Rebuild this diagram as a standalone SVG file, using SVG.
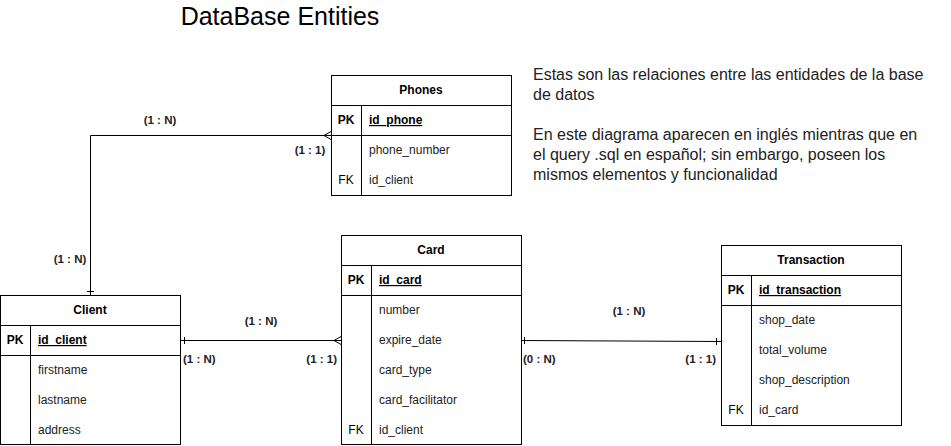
<svg xmlns="http://www.w3.org/2000/svg" width="951" height="446" viewBox="0 0 951 446">
<style>
.box{fill:#fff;stroke:#000;stroke-width:1}
.ln{stroke:#000;stroke-width:1;fill:none}
text{font-family:"Liberation Sans",Arial,Helvetica,sans-serif;fill:#000}
.t{font-size:12px;font-weight:bold;text-anchor:middle}
.k{font-size:12px;font-weight:bold;text-anchor:middle}
.fk{font-size:12px;text-anchor:middle}
.pk{font-size:12px;font-weight:bold;text-decoration:underline}
.f{font-size:12px;fill:#222}
.lbl{font-size:11.5px;font-weight:bold;fill:#222}
.c{text-anchor:middle}
.e{text-anchor:end}
.note{font-size:16px;fill:#222}
</style>
<rect width="951" height="446" fill="#fff"/>
<text x="280" y="25" style="font-size:25px" text-anchor="middle">DataBase Entities</text>
<g id="note">
<text class="note" x="533" y="80">Estas son las relaciones entre las entidades de la base</text>
<text class="note" x="533" y="100">de datos</text>
<text class="note" x="533" y="140">En este diagrama aparecen en inglés mientras que en</text>
<text class="note" x="533" y="160">el query .sql en español; sin embargo, poseen los</text>
<text class="note" x="533" y="180">mismos elementos y funcionalidad</text>
</g>
<g id="connectors">
<path class="ln" d="M90.5,295 V135.5 H331"/>
<path class="ln" d="M87,291.5 H94"/>
<path class="ln" d="M331,131.5 L324,135.5 L331,139.5"/>
<path class="ln" d="M180,340.5 H341"/>
<path class="ln" d="M184.5,337 V344"/>
<path class="ln" d="M341,336.5 L334,340.5 L341,344.5"/>
<path class="ln" d="M521,340.5 L721,341.5"/>
<path class="ln" d="M524.5,337 V344"/>
<path class="ln" d="M716.5,338 V345"/>
<text class="lbl c" x="160" y="124">(1 : N)</text>
<text class="lbl c" x="310" y="154">(1 : 1)</text>
<text class="lbl c" x="70" y="263">(1 : N)</text>
<text class="lbl c" x="261" y="325">(1 : N)</text>
<text class="lbl" x="183" y="363">(1 : N)</text>
<text class="lbl e" x="337" y="363">(1 : 1)</text>
<text class="lbl c" x="629" y="315">(1 : N)</text>
<text class="lbl" x="523" y="363">(0 : N)</text>
<text class="lbl e" x="716" y="363">(1 : 1)</text>
</g>
<g id="phones">
<rect class="box" x="331.5" y="75.5" width="180" height="120"/>
<path class="ln" d="M331.5,105.5 H511.5 M331.5,135.5 H511.5 M361.5,105.5 V195.5"/>
<text class="t" x="421" y="94">Phones</text>
<text class="k" x="346" y="124">PK</text>
<text class="pk" x="369" y="124">id_phone</text>
<text class="f" x="369" y="154">phone_number</text>
<text class="fk" x="346" y="184">FK</text>
<text class="f" x="369" y="184">id_client</text>
</g>
<g id="client">
<rect class="box" x="0.5" y="295.5" width="180" height="149"/>
<path class="ln" d="M0.5,325.5 H180.5 M0.5,355.5 H180.5 M30.5,325.5 V444.5"/>
<text class="t" x="90" y="314">Client</text>
<text class="k" x="15" y="344">PK</text>
<text class="pk" x="38" y="344">id_client</text>
<text class="f" x="38" y="374">firstname</text>
<text class="f" x="38" y="404">lastname</text>
<text class="f" x="38" y="434">address</text>
</g>
<g id="card">
<rect class="box" x="341.5" y="235.5" width="180" height="209"/>
<path class="ln" d="M341.5,265.5 H521.5 M341.5,295.5 H521.5 M371.5,265.5 V444.5"/>
<text class="t" x="431" y="254">Card</text>
<text class="k" x="356" y="284">PK</text>
<text class="pk" x="379" y="284">id_card</text>
<text class="f" x="379" y="314">number</text>
<text class="f" x="379" y="344">expire_date</text>
<text class="f" x="379" y="374">card_type</text>
<text class="f" x="379" y="404">card_facilitator</text>
<text class="fk" x="356" y="434">FK</text>
<text class="f" x="379" y="434">id_client</text>
</g>
<g id="transaction">
<rect class="box" x="721.5" y="245.5" width="180" height="180"/>
<path class="ln" d="M721.5,275.5 H901.5 M721.5,305.5 H901.5 M751.5,275.5 V425.5"/>
<text class="t" x="811" y="264">Transaction</text>
<text class="k" x="736" y="294">PK</text>
<text class="pk" x="759" y="294">id_transaction</text>
<text class="f" x="759" y="324">shop_date</text>
<text class="f" x="759" y="354">total_volume</text>
<text class="f" x="759" y="384">shop_description</text>
<text class="fk" x="736" y="414">FK</text>
<text class="f" x="759" y="414">id_card</text>
</g>
</svg>
